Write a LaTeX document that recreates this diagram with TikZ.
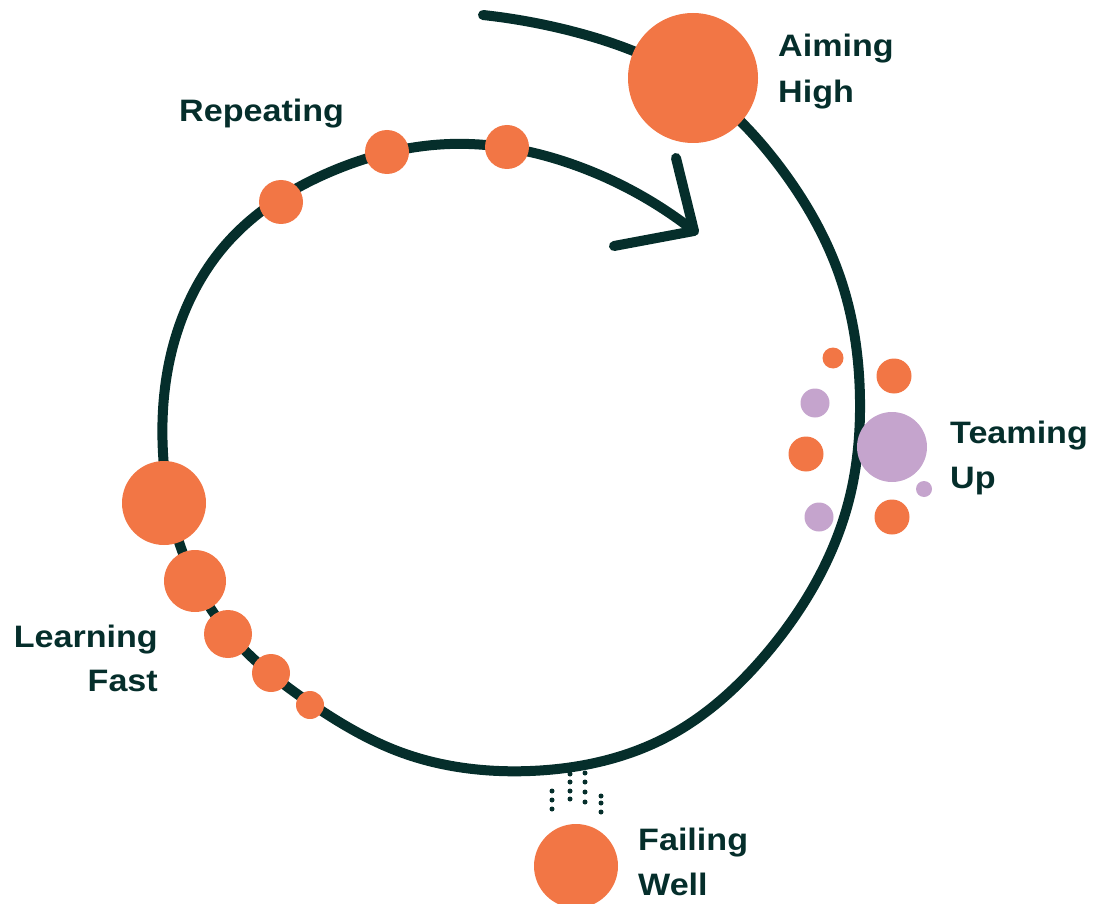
\documentclass[tikz,border=0pt]{standalone}
\usepackage{fontspec}
\setmainfont{Liberation Sans}[FakeStretch=1.1]
\usetikzlibrary{hobby}
\definecolor{ink}{HTML}{052E2B}
\definecolor{orng}{HTML}{F27645}
\definecolor{lilac}{HTML}{C5A4CD}
\begin{document}
\begin{tikzpicture}[x=1pt,y=-1pt,
  track/.style={draw=ink,line width=10pt,line cap=round,line join=round},
  dot/.style={circle,fill=orng,inner sep=0pt,minimum size=#1},
  pdot/.style={circle,fill=lilac,inner sep=0pt,minimum size=#1},
  speck/.style={circle,fill=ink,inner sep=0pt,minimum size=5pt},
  lbl/.style={inner sep=0pt,text=ink,font=\fontsize{31}{37}\selectfont\bfseries}]
\useasboundingbox (0,0) rectangle (1111,904);
% falling specks
\foreach \x/\y [count=\i] in {552/791,552/800,552/809,570/774,570/782,570/791,570/799,585/773,585/782,585/792,585/802,601/796,601/803,601/812}
  \node[speck] (s\i) at (\x,\y) {};
% spiral track
\coordinate (start) at (483,15);
\coordinate (tip) at (694,231);
\draw[track,use Hobby shortcut] (start) .. (575,32) .. (693,82) .. (780,167) .. (840,277)
 .. (860,400) .. (849,500) .. (767,653) .. (667,737) .. (530,771)
 .. (400,752) .. (310,703) .. (228,632) .. (180,545) .. (163,453) .. (172,350)
 .. (227,243) .. (330,172) .. (450,144) .. (580,167) .. (tip);
\coordinate (w1) at (676,158);
\coordinate (w2) at (614,246);
\draw[track] (w1) -- (tip) -- (w2);
% Aiming High
\node[dot=130pt] (aim) at (693,78) {};
\node[lbl,anchor=base west] (aimA) at (778,57) {Aiming};
\node[lbl,anchor=base west] (aimB) at (778,103) {High};
% Repeating
\node[dot=44pt] (r1) at (281,202) {};
\node[dot=44pt] (r2) at (387,152) {};
\node[dot=44pt] (r3) at (507,147) {};
\node[lbl,anchor=base west] (rep) at (179,122) {Repeating};
% Learning Fast
\node[dot=84pt] (l1) at (164,503) {};
\node[dot=62pt] (l2) at (195,581) {};
\node[dot=48pt] (l3) at (228,634) {};
\node[dot=38pt] (l4) at (271,673) {};
\node[dot=28pt] (l5) at (310,705) {};
\node[lbl,anchor=base east] (learnA) at (158,647) {Learning};
\node[lbl,anchor=base east] (learnB) at (158,691) {Fast};
% Teaming Up
\node[dot=21pt] (t1) at (833,358) {};
\node[dot=35pt] (t2) at (894,376) {};
\node[pdot=29pt] (t3) at (815,403) {};
\node[pdot=70pt] (t4) at (892,447) {};
\node[dot=35pt] (t5) at (806,454) {};
\node[pdot=16pt] (t6) at (924,489) {};
\node[pdot=29pt] (t7) at (819,517) {};
\node[dot=35pt] (t8) at (892,517) {};
\node[lbl,anchor=base west] (teamA) at (950,443) {Teaming};
\node[lbl,anchor=base west] (teamB) at (950,488) {Up};
% Failing Well
\node[dot=84pt] (fail) at (576,866) {};
\node[lbl,anchor=base west] (failA) at (638,850) {Failing};
\node[lbl,anchor=base west] (failB) at (638,895) {Well};
\end{tikzpicture}
\end{document}
